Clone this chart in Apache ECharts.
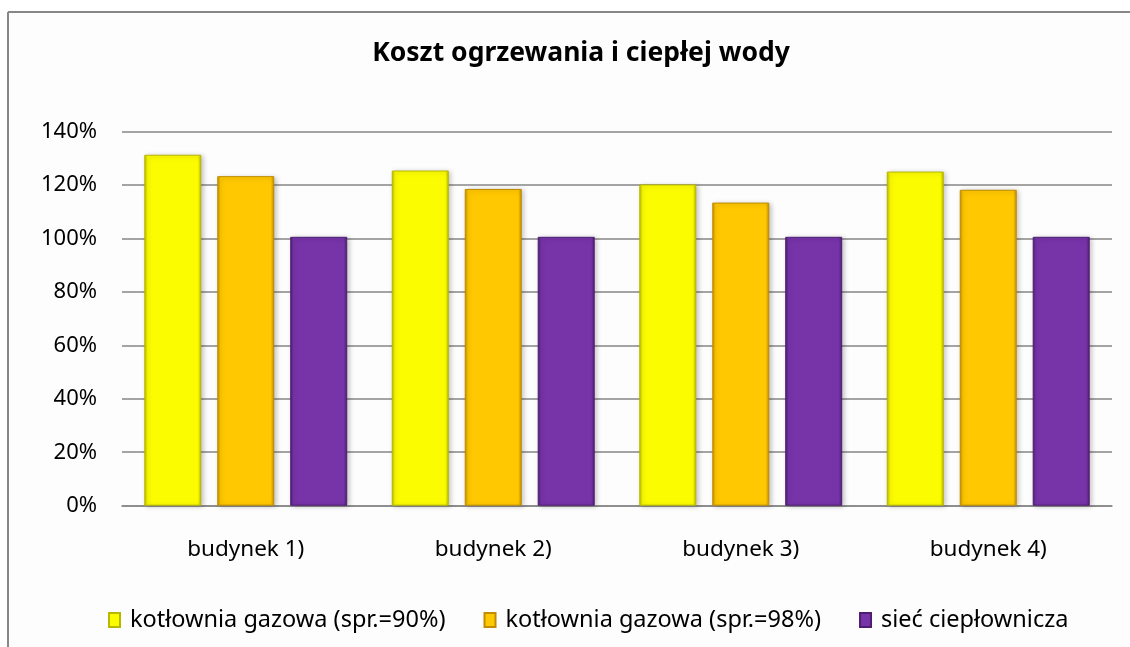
<!DOCTYPE html>
<html>
<head>
<meta charset="utf-8">
<script src="https://cdn.jsdelivr.net/npm/echarts@6/dist/echarts.min.js"></script>
<style>
  html, body { margin: 0; padding: 0; background: #ffffff; }
  #chart { width: 1130px; height: 647px; }
</style>
</head>
<body>
<div id="chart"></div>
<script>
// dane
const categories = ['budynek 1)', 'budynek 2)', 'budynek 3)', 'budynek 4)']
const seriesNames = ['kotłownia gazowa (spr.=90%)', 'kotłownia gazowa (spr.=98%)', 'sieć ciepłownicza']
const gas90 = [131.3, 125.4, 120.2, 125.0]
const gas98 = [123.3, 118.5, 113.4, 118.2]
const heatNet = [100.6, 100.6, 100.6, 100.6]
const yTicks = { min: 0, max: 140, interval: 20 }

const fills = ['#fcfc00', '#ffc800', '#7733a8']
const borders = ['#b8b800', '#c08c00', '#4e1e72']
const font = 'Noto Sans'

function barSeries(name, data, i) {
  return {
    name: name,
    type: 'bar',
    data: data,
    barWidth: 57,
    barGap: '28%',
    itemStyle: {
      color: {
        type: 'linear', x: 0, y: 0, x2: 1, y2: 0,
        colorStops: [
          { offset: 0, color: borders[i] },
          { offset: 0.06, color: fills[i] },
          { offset: 0.94, color: fills[i] },
          { offset: 1, color: borders[i] }
        ]
      },
      borderColor: borders[i],
      borderWidth: 1,
      shadowBlur: 5,
      shadowColor: 'rgba(0,0,0,0.25)',
      shadowOffsetX: 2,
      shadowOffsetY: 1
    }
  }
}

let dom = document.getElementById('chart')
let chart = echarts.init(dom)
let option = {
  backgroundColor: '#ffffff',
  animation: false,
  // ramka wykresu: tylko lewa i górna krawędź są widoczne
  graphic: [
    { type: 'rect', z: -10, shape: { x: 8, y: 12, width: 1122, height: 635 }, style: { fill: '#fdfdfd' } },
    { type: 'line', z: -5, shape: { x1: 8, y1: 12, x2: 1130, y2: 12 }, style: { stroke: '#878787', lineWidth: 2 } },
    { type: 'line', z: -5, shape: { x1: 8, y1: 12, x2: 8, y2: 647 }, style: { stroke: '#878787', lineWidth: 2 } }
  ],
  title: {
    text: 'Koszt ogrzewania i ciepłej wody',
    left: 576,
    textAlign: 'center',
    top: 35,
    textStyle: { fontFamily: font, fontSize: 26.5, fontWeight: 'bold', color: '#000000' }
  },
  legend: {
    data: seriesNames,
    left: 103,
    top: 603,
    icon: 'rect',
    itemWidth: 11,
    itemHeight: 14,
    itemGap: 38,
    textStyle: { fontFamily: font, fontSize: 23.5, color: '#000000', padding: [0, 0, 0, 5] }
  },
  grid: {
    left: 122,
    right: 18,
    top: 131.5,
    bottom: 141.3
  },
  xAxis: {
    type: 'category',
    data: categories,
    axisTick: { show: false },
    axisLine: { lineStyle: { color: '#868686', width: 1.5 } },
    axisLabel: { margin: 32, fontFamily: font, fontSize: 22.5, color: '#000000' }
  },
  yAxis: {
    type: 'value',
    min: yTicks.min,
    max: yTicks.max,
    interval: yTicks.interval,
    axisLine: { show: false },
    axisTick: { show: false },
    splitLine: { lineStyle: { color: '#868686', width: 1.5 } },
    axisLabel: { margin: 25, formatter: '{value}%', fontFamily: font, fontSize: 22, color: '#000000' }
  },
  series: [
    barSeries(seriesNames[0], gas90, 0),
    barSeries(seriesNames[1], gas98, 1),
    barSeries(seriesNames[2], heatNet, 2)
  ]
}
chart.setOption(option)
window.addEventListener('resize', () => {
  chart.resize()
})
</script>
</body>
</html>
